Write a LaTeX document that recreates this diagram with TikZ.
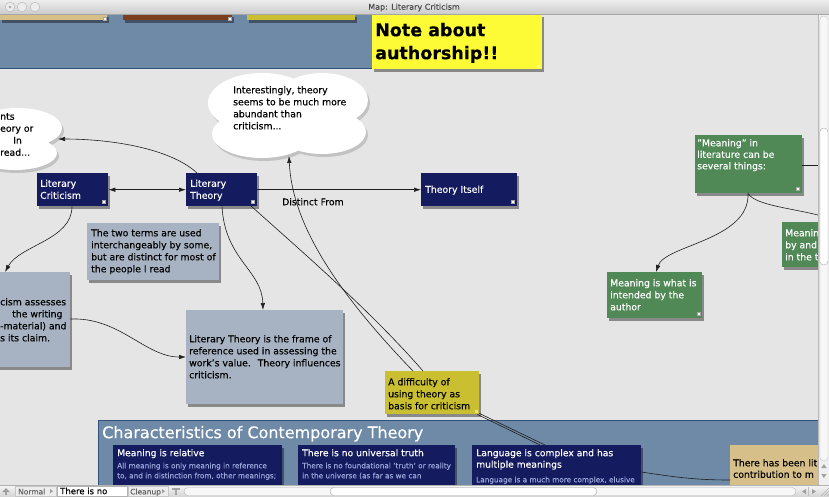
\documentclass[tikz,border=0pt]{standalone}
\usepackage{fontspec}
\setmainfont{DejaVu Sans}[FakeBold=0.3]
\usetikzlibrary{shadows,arrows.meta}
\definecolor{canvas}{HTML}{E5E5E5}
\definecolor{band}{HTML}{6E8AA7}
\definecolor{bandline}{HTML}{31507A}
\definecolor{navyc}{HTML}{151B5F}
\definecolor{notec}{HTML}{A7B3C2}
\definecolor{olivec}{HTML}{C9BF30}
\definecolor{greenc}{HTML}{508856}
\definecolor{tanc}{HTML}{D7BF89}
\definecolor{brownc}{HTML}{7B3F1F}
\definecolor{yelc}{HTML}{FDFB35}
\definecolor{bodyc}{HTML}{98A6DA}
\definecolor{linec}{HTML}{1E1E1E}
\definecolor{cloudshd}{HTML}{C2C2C2}
\newcommand\myfs[2]{\fontsize{#1}{#2}\selectfont}
\begin{document}
\begin{tikzpicture}[x=1pt,y=-1pt,
  shd/.style={drop shadow={shadow xshift=2pt,shadow yshift=-3pt,opacity=0.4,fill=black}},
  card/.style={shape=rectangle,anchor=north west,inner sep=0pt,shd},
  navybox/.style={card,fill=navyc},
  notebox/.style={card,fill=notec},
  greenbox/.style={card,fill=greenc},
  txt/.style={anchor=north west,inner sep=0pt,align=left,font=\myfs{9.3}{12}},
  wtxt/.style={txt,text=white},
  conn/.style={draw=linec,line width=0.6pt},
  arr/.style={conn,-{Latex[length=7pt,width=4.5pt]}},
  tag/.style={fill=white,draw=gray!70,line width=0.3pt,minimum size=3.5pt,inner sep=0pt},
  stat/.style={anchor=north west,inner sep=0pt,font=\myfs{7.5}{9},text=gray!80!black},
]
\useasboundingbox (0,0) rectangle (829,496);
\fill[canvas] (0,0) rectangle (829,496);

% ---------- top band ----------
\fill[band] (0,14) rectangle (520,68);
\draw[bandline,line width=1pt] (0,68) -- (520,68);
\node[card,fill=tanc,minimum width=107pt,minimum height=6pt] (s1) at (0,14) {};
\node[card,fill=brownc,minimum width=109pt,minimum height=6pt] (s2) at (123,14) {};
\node[card,fill=olivec,minimum width=108pt,minimum height=6pt] (s3) at (247,14) {};
\node[tag,minimum size=2.5pt] (tgs1) at ([shift={(-3,-2)}]s1.south east) {};
\node[tag,minimum size=2.5pt] (tgs2) at ([shift={(-3,-2)}]s2.south east) {};
\node[card,fill=yelc,minimum width=170pt,minimum height=55pt] (auth) at (372,14) {};
\node[txt,font=\bfseries\myfs{17.5}{23}] (autht) at (375,22.7) {Note about\\authorship!!};
\node[tag,fill=yelc!60!white,draw=none,minimum size=2.5pt] (tga) at ([shift={(-4,-3)}]auth.south east) {};

% ---------- clouds ----------
\fill[cloudshd] (20,131) ellipse [x radius=44pt, y radius=20pt]
                (17,156) ellipse [x radius=42pt, y radius=17pt];
\fill[white] (18,128) ellipse [x radius=44pt, y radius=20pt]
             (15,153) ellipse [x radius=42pt, y radius=17pt];
\coordinate (c1port) at (58,139);
\node[txt] (c1t) at (0,113) {nts\\eory or\\\hspace*{13pt}In\\read...};

\fill[cloudshd] (264,106) ellipse [x radius=54pt, y radius=30pt]
                (324,103) ellipse [x radius=46pt, y radius=27pt]
                (264,137) ellipse [x radius=50pt, y radius=24pt]
                (324,135) ellipse [x radius=44pt, y radius=22pt];
\fill[white] (262,103) ellipse [x radius=54pt, y radius=30pt]
             (322,100) ellipse [x radius=46pt, y radius=27pt]
             (262,134) ellipse [x radius=50pt, y radius=24pt]
             (322,132) ellipse [x radius=44pt, y radius=22pt];
\coordinate (c2port) at (289,156);
\node[txt] (c2t) at (233,86) {Interestingly, theory\\seems to be much more\\abundant than\\criticism...};

% ---------- main boxes ----------
\node[navybox,minimum width=71pt,minimum height=33pt] (lc) at (37,173) {};
\node[wtxt] (lct) at (40,179.5) {Literary\\Criticism};
\node[tag] (tg1) at ([shift={(-5,-5)}]lc.south east) {};

\node[navybox,minimum width=71pt,minimum height=33pt] (lt) at (186,173) {};
\node[wtxt] (ltt) at (190,179.5) {Literary\\Theory};
\node[tag] (tg2) at ([shift={(-5,-5)}]lt.south east) {};

\node[navybox,minimum width=96pt,minimum height=33pt] (ti) at (421,173) {};
\node[wtxt] (tit) at (425,185.5) {Theory Itself};
\node[tag] (tg3) at ([shift={(-5,-5)}]ti.south east) {};

\node[notebox,minimum width=132pt,minimum height=57pt] (two) at (87,223) {};
\node[txt] (twot) at (91,229) {The two terms are used\\interchangeably by some,\\but are distinct for most of\\the people I read};

\node[notebox,minimum width=75pt,minimum height=95pt] (lb) at (-5,272) {};
\node[txt] (lbt) at (0,298) {cism assesses\\\hspace*{12pt}the writing\\-material) and\\s its claim.};

\node[notebox,minimum width=157pt,minimum height=94pt] (fr) at (186,310) {};
\node[txt] (frt) at (189,335) {Literary Theory is the frame of\\reference used in assessing the\\work's value.~ Theory influences\\criticism.};

\node[card,fill=olivec,minimum width=94pt,minimum height=43pt] (dif) at (385,371) {};
\node[txt] (dift) at (388,378) {A difficulty of\\using theory as\\basis for criticism};
\node[tag,fill=olivec!50!white,draw=none,minimum size=2.5pt] (tg4) at ([shift={(-3,-3)}]dif.south east) {};

\node[greenbox,minimum width=107pt,minimum height=58pt] (mg) at (695,135) {};
\node[wtxt,font=\myfs{9.3}{11.5}] (mgt) at (697,139) {"Meaning" in\\literature can be\\several things:};
\node[tag] (tg5) at ([shift={(-5,-5)}]mg.south east) {};

\node[greenbox,minimum width=95pt,minimum height=46pt] (mw) at (607,272) {};
\node[wtxt] (mwt) at (610,279) {Meaning is what is\\intended by the\\author};
\node[tag] (tg6) at ([shift={(-4,-5)}]mw.south east) {};

\node[greenbox,minimum width=50pt,minimum height=45pt] (mp) at (782,222) {};
\node[wtxt] (mpt) at (785,229) {Meanin\\by and\\in the t};

% ---------- bottom band ----------
\fill[band] (98,420) rectangle (830,500);
\draw[bandline,line width=1pt] (98,500) -- (98,420) -- (830,420);
\node[txt,text=white,font=\myfs{16}{18}] (bandt) at (102,425.8) {Characteristics of Contemporary Theory};

\node[navybox,minimum width=169pt,minimum height=60pt] (r1) at (113,445) {};
\node[wtxt,font=\myfs{9.2}{11.5}] (r1t) at (117,449) {Meaning is relative};
\node[txt,text=bodyc,font=\myfs{7.3}{10}] (r1b) at (117,462.5) {All meaning is only meaning in reference\\to, and in distinction from, other meanings;};

\node[navybox,minimum width=157pt,minimum height=60pt] (r2) at (298,445) {};
\node[wtxt,font=\myfs{9.2}{11.5}] (r2t) at (302,449) {There is no universal truth};
\node[txt,text=bodyc,font=\myfs{7.3}{10}] (r2b) at (302,462.5) {There is no foundational 'truth' or reality\\in the universe (as far as we can};

\node[navybox,minimum width=169pt,minimum height=60pt] (lang) at (472,445) {};
\node[wtxt,font=\myfs{9.2}{11.5}] (langt) at (476,449) {Language is complex and has\\multiple meanings};
\node[txt,text=bodyc,font=\myfs{7.3}{10}] (langb) at (476,476.5) {Language is a much more complex, elusive};

\node[card,fill=tanc,minimum width=100pt,minimum height=60pt] (tan) at (730,445) {};
\node[txt,font=\myfs{9.3}{11.5}] (tant) at (733,459) {There has been lit\\contribution to m};

% ---------- connectors ----------
\coordinate (offa) at (818,165);
\coordinate (offb) at (818,215);
\draw[arr] ([shift={(11,0)}]lt.north west) .. controls (170,148) and (110,139) .. (c1port);
\draw[conn,{Latex[length=7pt,width=4.5pt]}-{Latex[length=7pt,width=4.5pt]}] (lc.east) -- (lt.west);
\draw[arr] (lt.east) -- (ti.west);
\node[txt] (df) at (282,198) {Distinct From};
\draw[arr] ([shift={(35,0)}]lc.south west) .. controls (72,240) and (20,245) .. ([shift={(10,0)}]lb.north west);
\draw[arr] ([shift={(0,47)}]lb.north east) .. controls (120,317) and (145,357) .. ([shift={(0,47)}]fr.north west);
\draw[arr] ([shift={(36,0)}]lt.south west) .. controls (225,260) and (262,270) .. ([shift={(77,0)}]fr.north west);
\draw[conn] ([shift={(-7,-1)}]lt.south east) .. controls (300,250) and (370,310) .. ([shift={(38,0)}]dif.north west);
\draw[arr] ([shift={(28,0)}]dif.north west) .. controls (330,285) and (292,220) .. (c2port);
\draw[conn] ([shift={(-2,0)}]dif.south east) -- ([shift={(68,0)}]lang.north west);
\draw[conn] ([shift={(0,-1)}]dif.south east) -- ([shift={(73,0)}]lang.north west);
\draw[conn] ([shift={(0,27)}]lang.north east) .. controls (680,478) and (700,480) .. ([shift={(0,35)}]tan.north west);
\draw[conn] ([shift={(0,30)}]mg.north east) -- (offa);
\draw[conn] ([shift={(53,0)}]mg.south west) .. controls (755,205) and (790,208) .. (offb);
\draw[arr] ([shift={(53,0)}]mg.south west) .. controls (750,240) and (665,245) .. ([shift={(49,0)}]mw.north west);

% ---------- title bar ----------
\shade[top color=white!93!black,bottom color=white!80!black] (0,0) rectangle (829,14);
\draw[gray!70] (0,14) -- (829,14);
\foreach \cx in {10,22,35} \draw[gray!60,fill=gray!15] (\cx,7) circle[radius=4.8pt];
\fill[gray!70] (10,7) circle[radius=1.4pt];
\node[inner sep=0pt,font=\myfs{8}{9},text=black!70] (ttl) at (414,7.5) {Map: Literary Criticism};

% ---------- right scrollbar ----------
\fill[white!94!black] (818,14.5) rectangle (829,485);
\draw[gray!55] (818.5,14.5) -- (818.5,485);
\draw[gray!45,fill=white!97!black,rounded corners=4pt] (819.8,16) rectangle (828,461);
\draw[gray!65,fill=white,rounded corners=4pt] (819.8,128) rectangle (828,265);
\fill[gray!75] (821.3,468) -- (823.9,464) -- (826.5,468) -- cycle;
\fill[gray!75] (821.3,474) -- (823.9,478) -- (826.5,474) -- cycle;

% ---------- status bar ----------
\shade[top color=white!96!black,bottom color=white!84!black] (0,485.5) rectangle (829,496);
\draw[gray!60] (0,485.5) -- (829,485.5);
\fill[gray!75] (2,492) -- (6,488) -- (10,492) -- cycle;
\fill[gray!75] (5,492) rectangle (7,494.5);
\draw[gray!45,fill=white!93!black] (15,486.5) rectangle (56,496);
\node[stat] (nrm) at (18,488.5) {Normal};
\fill[gray!75] (50,489) -- (53,491.2) -- (50,493.4) -- cycle;
\draw[gray!60,fill=white] (57,486.5) rectangle (127,496);
\node[anchor=north west,inner sep=0pt,font=\myfs{8.5}{10}] (fld) at (60,487.5) {There is no};
\draw[gray!45,fill=white!93!black] (128,486.5) rectangle (168,496);
\node[stat] (cln) at (130,488.5) {Cleanup};
\fill[gray!75] (162,489) -- (165,491.2) -- (162,493.4) -- cycle;
\fill[gray!70] (172,488) rectangle (180,489.5);
\fill[gray!70] (175.4,489.5) rectangle (176.6,494.5);
\draw[gray!55,fill=white!97!black,rounded corners=4pt] (184,487.5) rectangle (796,495.5);
\draw[gray!65,fill=white,rounded corners=4pt] (330,487.5) rectangle (597,495.5);
\fill[gray!75] (802,491.5) -- (806,489) -- (806,494) -- cycle;
\fill[gray!75] (812,489) -- (816,491.5) -- (812,494) -- cycle;
\draw[gray!50] (808.5,487) -- (808.5,496);
\foreach \k in {2,5,8} \draw[gray!60,line width=0.4pt] (829-\k,496) -- (829,496-\k);
\end{tikzpicture}
\end{document}
